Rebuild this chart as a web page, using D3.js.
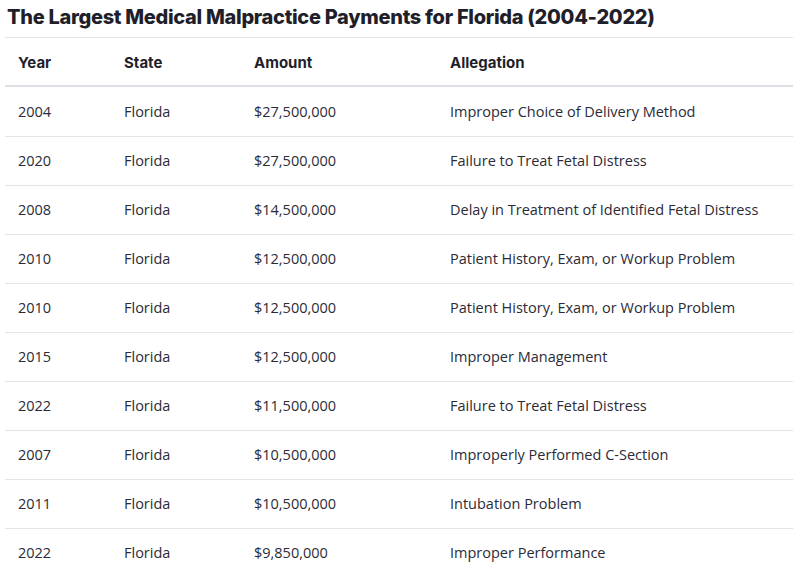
<!DOCTYPE html>
<html><head><meta charset="utf-8">
<script src="https://cdn.jsdelivr.net/npm/d3@7"></script>
<style>body{margin:0;background:#fff}</style>
</head><body><div id="chart"></div>
<script>
var title = "The Largest Medical Malpractice Payments for Florida (2004-2022)";
var columns = ["Year", "State", "Amount", "Allegation"];
var years = ["2004","2020","2008","2010","2010","2015","2022","2007","2011","2022"];
var states = ["Florida","Florida","Florida","Florida","Florida","Florida","Florida","Florida","Florida","Florida"];
var amounts = ["$27,500,000","$27,500,000","$14,500,000","$12,500,000","$12,500,000","$12,500,000","$11,500,000","$10,500,000","$10,500,000","$9,850,000"];
var allegations = ["Improper Choice of Delivery Method","Failure to Treat Fetal Distress",
  "Delay in Treatment of Identified Fetal Distress","Patient History, Exam, or Workup Problem",
  "Patient History, Exam, or Workup Problem","Improper Management","Failure to Treat Fetal Distress",
  "Improperly Performed C-Section","Intubation Problem","Improper Performance"];

var width = 793, height = 587;
var rows = years.map(function(y, i) { return [y, states[i], amounts[i], allegations[i]]; });

var svg = d3.select("#chart").append("svg").attr("width", width).attr("height", height);

svg.append("text").attr("x", 7).attr("y", 24)
  .style("font-family", "Inter, Lato, sans-serif").style("font-weight", 800)
  .style("font-size", "20px").style("fill", "#1f1f2b").style("letter-spacing", "-0.3px")
  .text(title);

var x = d3.scaleOrdinal().domain(columns).range([18, 124, 254, 450]);
// header row band then data rows
var y = d3.scaleBand().domain(d3.range(rows.length + 1)).range([38, 577]);

svg.append("line").attr("x1", 5).attr("x2", width).attr("y1", 37.5).attr("y2", 37.5)
  .style("stroke", "#e2e4e7");

svg.selectAll("text.head").data(columns).enter().append("text").attr("class", "head")
  .attr("x", function(d) { return x(d); }).attr("y", y(0) + y.bandwidth() / 2 + 5)
  .style("font-family", "Inter, Lato, sans-serif").style("font-weight", 700)
  .style("font-size", "15px").style("fill", "#1f1f2b").text(function(d) { return d; });

svg.append("line").attr("x1", 5).attr("x2", width).attr("y1", y(1) - 1).attr("y2", y(1) - 1)
  .style("stroke", "#dde0e4").style("stroke-width", 2);

var g = svg.selectAll("g.row").data(rows).enter().append("g").attr("class", "row")
  .attr("transform", function(d, i) { return "translate(0," + y(i + 1) + ")"; });

g.filter(function(d, i) { return i > 0; }).append("line")
  .attr("x1", 5).attr("x2", width).attr("y1", 0.5).attr("y2", 0.5).style("stroke", "#e2e4e7");

g.selectAll("text").data(function(d) { return d; }).enter().append("text")
  .attr("x", function(d, j) { return x(columns[j]); }).attr("y", y.bandwidth() / 2 + 5)
  .style("font-family", "'Open Sans', 'Noto Sans', sans-serif").style("font-size", "14.5px")
  .style("fill", "#2b2b36").text(function(d) { return d; });
</script></body></html>
